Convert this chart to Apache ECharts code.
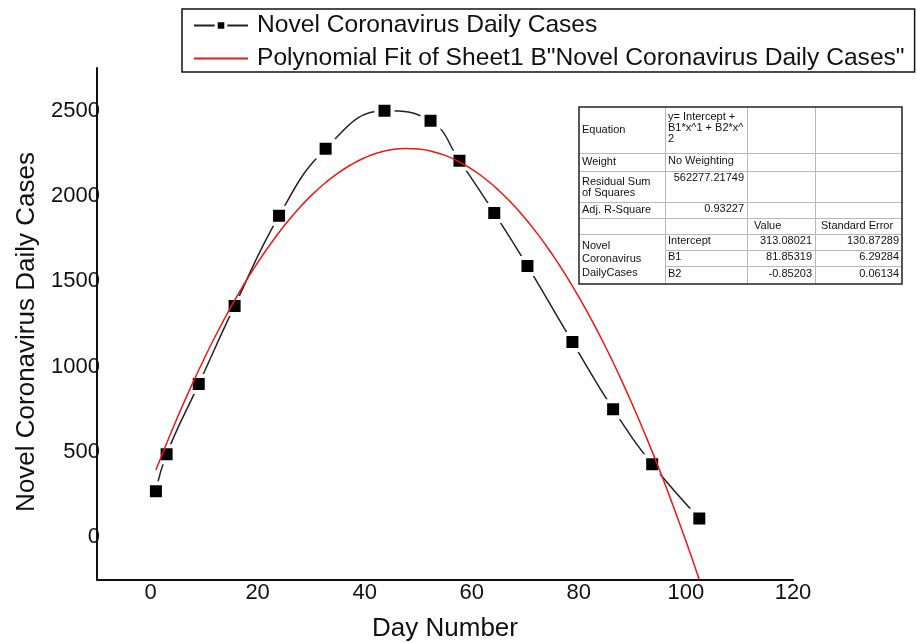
<!DOCTYPE html>
<html>
<head>
<meta charset="utf-8">
<script src="https://cdn.jsdelivr.net/npm/echarts@6/dist/echarts.min.js"></script>
<style>
html,body{margin:0;padding:0;background:#fff;}
#chart{width:917px;height:643px;}
</style>
</head>
<body>
<div id="chart"></div>
<script>
// ---- data ----
const seriesName = 'Novel Coronavirus Daily Cases';
const fitName = 'Polynomial Fit of Sheet1 B"Novel Coronavirus Daily Cases"';
const dayNumbers = [1, 3, 9, 15.7, 24, 32.7, 43.7, 52.3, 57.7, 64.2, 70.4, 78.8, 86.4, 93.7, 102.5];
const dailyCases = [270, 487, 898, 1356, 1884, 2277, 2500, 2441, 2207, 1901, 1590, 1144, 751, 428, 111];
// red fitted curve
const fitX = [1, 2.5, 5, 7.5, 10, 12.5, 15, 17.5, 20, 22.5, 25, 27.5, 30, 32.5, 35, 37.5, 40, 42.5, 45, 47.5, 50,
  52.5, 55, 57.5, 60, 62.5, 65, 67.5, 70, 72.5, 75, 77.5, 80, 82.5, 85, 87.5, 90, 92.5, 95, 97.5, 100, 102.5];
const fitY = [394, 512, 701, 879, 1046, 1203, 1349, 1485, 1609, 1723, 1827, 1920, 2002, 2073, 2134, 2184, 2224, 2253, 2271, 2279, 2276,
  2262, 2238, 2203, 2157, 2101, 2034, 1956, 1868, 1769, 1659, 1539, 1408, 1267, 1115, 952, 778, 594, 400, 194, -22, -248];
const xTickLabels = [0, 20, 40, 60, 80, 100, 120];
const yTickLabels = [0, 500, 1000, 1500, 2000, 2500];
// fit-results table
const statLabels = ['Equation', 'Weight', 'Residual Sum\nof Squares', 'Adj. R-Square'];
const statValues = ['y= Intercept +\nB1*x^1 + B2*x^\n2', 'No Weighting', '562277.21749', '0.93227'];
const paramHeader = ['Value', 'Standard Error'];
const paramGroup = 'Novel\nCoronavirus\nDailyCases';
const paramNames = ['Intercept', 'B1', 'B2'];
const paramValues = ['313.08021', '81.85319', '-0.85203'];
const paramErrors = ['130.87289', '6.29284', '0.06134'];

const FONT = '"Liberation Sans", Arial, sans-serif';

// ---- table graphic ----
const colX = [579, 665, 747, 815, 902];
const rowY = [107, 153, 171, 202, 218, 234, 250, 266, 284];
const tfont = '11px ' + FONT;
const g = [];
g.push({type: 'rect', shape: {x: colX[0], y: rowY[0], width: colX[4] - colX[0], height: rowY[8] - rowY[0]},
  style: {fill: '#fff', stroke: null}, z: 100});
for (let r = 1; r < rowY.length - 1; r++) {
  const x1 = (r >= 6) ? colX[1] : colX[0];
  g.push({type: 'line', shape: {x1: x1, y1: rowY[r] + 0.5, x2: colX[4], y2: rowY[r] + 0.5},
    style: {stroke: '#b8b8b8', lineWidth: 1}, z: 101});
}
for (let c = 1; c < colX.length - 1; c++) {
  g.push({type: 'line', shape: {x1: colX[c] + 0.5, y1: rowY[0], x2: colX[c] + 0.5, y2: rowY[8]},
    style: {stroke: '#b8b8b8', lineWidth: 1}, z: 101});
}
g.push({type: 'rect', shape: {x: colX[0], y: rowY[0], width: colX[4] - colX[0], height: rowY[8] - rowY[0]},
  style: {fill: null, stroke: '#222', lineWidth: 1.5}, z: 102});
function txt(s, x, y, align, va) {
  g.push({type: 'text', x: x, y: y, z: 103,
    style: {text: s, font: tfont, fill: '#111', align: align || 'left', verticalAlign: va || 'middle', lineHeight: 11}});
}
function mid(r) { return (rowY[r] + rowY[r + 1]) / 2; }
statLabels.forEach((s, i) => txt(s, colX[0] + 3, mid(i) + (i === 2 ? 1 : 0)));
txt(statValues[0], colX[1] + 3, mid(0) - 2);
txt(statValues[1], colX[1] + 3, mid(1) - 1);
txt(statValues[2], colX[2] - 3, rowY[2] + 7, 'right');
txt(statValues[3], colX[2] - 3, mid(3) - 1, 'right');
txt(paramHeader[0], colX[2] + 7, mid(4));
txt(paramHeader[1], colX[3] + 6, mid(4));
g.push({type: 'text', x: colX[0] + 3, y: (rowY[5] + rowY[8]) / 2, z: 103,
  style: {text: paramGroup, font: tfont, fill: '#111', align: 'left', verticalAlign: 'middle', lineHeight: 13.5}});
paramNames.forEach((s, i) => txt(s, colX[1] + 3, mid(5 + i) - 1));
paramValues.forEach((s, i) => txt(s, colX[3] - 3, mid(5 + i) - 1, 'right'));
paramErrors.forEach((s, i) => txt(s, colX[4] - 3, mid(5 + i) - 1, 'right'));

const chart = echarts.init(document.getElementById('chart'), null, {renderer: 'canvas'});
const option = {
  animation: false,
  backgroundColor: '#fff',
  textStyle: {fontFamily: FONT},
  grid: {left: 97, right: 124, top: 68, bottom: 63, containLabel: false, outerBoundsMode: 'none'},
  legend: {
    orient: 'vertical', left: 182, top: 9,
    padding: [4, 10, 1, 11], itemGap: 8,
    itemWidth: 54, itemHeight: 12,
    borderColor: '#111', borderWidth: 1.5,
    textStyle: {fontSize: 24.6, fontFamily: FONT, color: '#111', padding: [0, 0, 0, 4]},
    data: [
      {name: seriesName, itemStyle: {borderColor: '#fff', borderWidth: 3}},
      {name: fitName, itemStyle: {opacity: 0}}
    ]
  },
  xAxis: {
    type: 'value', min: -10, max: 120,
    name: 'Day Number', nameLocation: 'middle', nameGap: 36,
    nameTextStyle: {fontSize: 26, color: '#111', fontFamily: FONT},
    axisLine: {show: true, onZero: false, lineStyle: {color: '#111', width: 2}},
    axisTick: {show: false},
    splitLine: {show: false},
    axisLabel: {customValues: xTickLabels, fontSize: 22, color: '#111', margin: 2, fontFamily: FONT,
      formatter: v => String(v)}
  },
  yAxis: {
    type: 'value', min: -250, max: 2750,
    name: 'Novel Coronavirus Daily Cases', nameLocation: 'middle', nameGap: 54,
    nameTextStyle: {fontSize: 26, color: '#111', fontFamily: FONT, padding: [0, 16, 0, 0]},
    axisLine: {show: true, onZero: false, lineStyle: {color: '#111', width: 2}},
    axisTick: {show: false},
    splitLine: {show: false},
    axisLabel: {customValues: yTickLabels, fontSize: 22, color: '#111', margin: -3, fontFamily: FONT,
      formatter: v => String(v)}
  },
  series: [
    {
      name: seriesName, type: 'line', smooth: 0.45,
      data: dayNumbers.map((d, i) => [d, dailyCases[i]]),
      symbol: 'rect', symbolSize: 16,
      itemStyle: {color: '#000', borderColor: '#fff', borderWidth: 4},
      lineStyle: {color: '#222', width: 1.5},
      z: 2
    },
    {
      name: fitName, type: 'line', smooth: 0.5,
      data: fitX.map((d, i) => [d, fitY[i]]),
      symbol: 'none', showSymbol: false,
      itemStyle: {color: '#f01515'},
      lineStyle: {color: '#f01515', width: 1.5},
      z: 3
    }
  ],
  graphic: g
};
chart.setOption(option);
</script>
</body>
</html>
